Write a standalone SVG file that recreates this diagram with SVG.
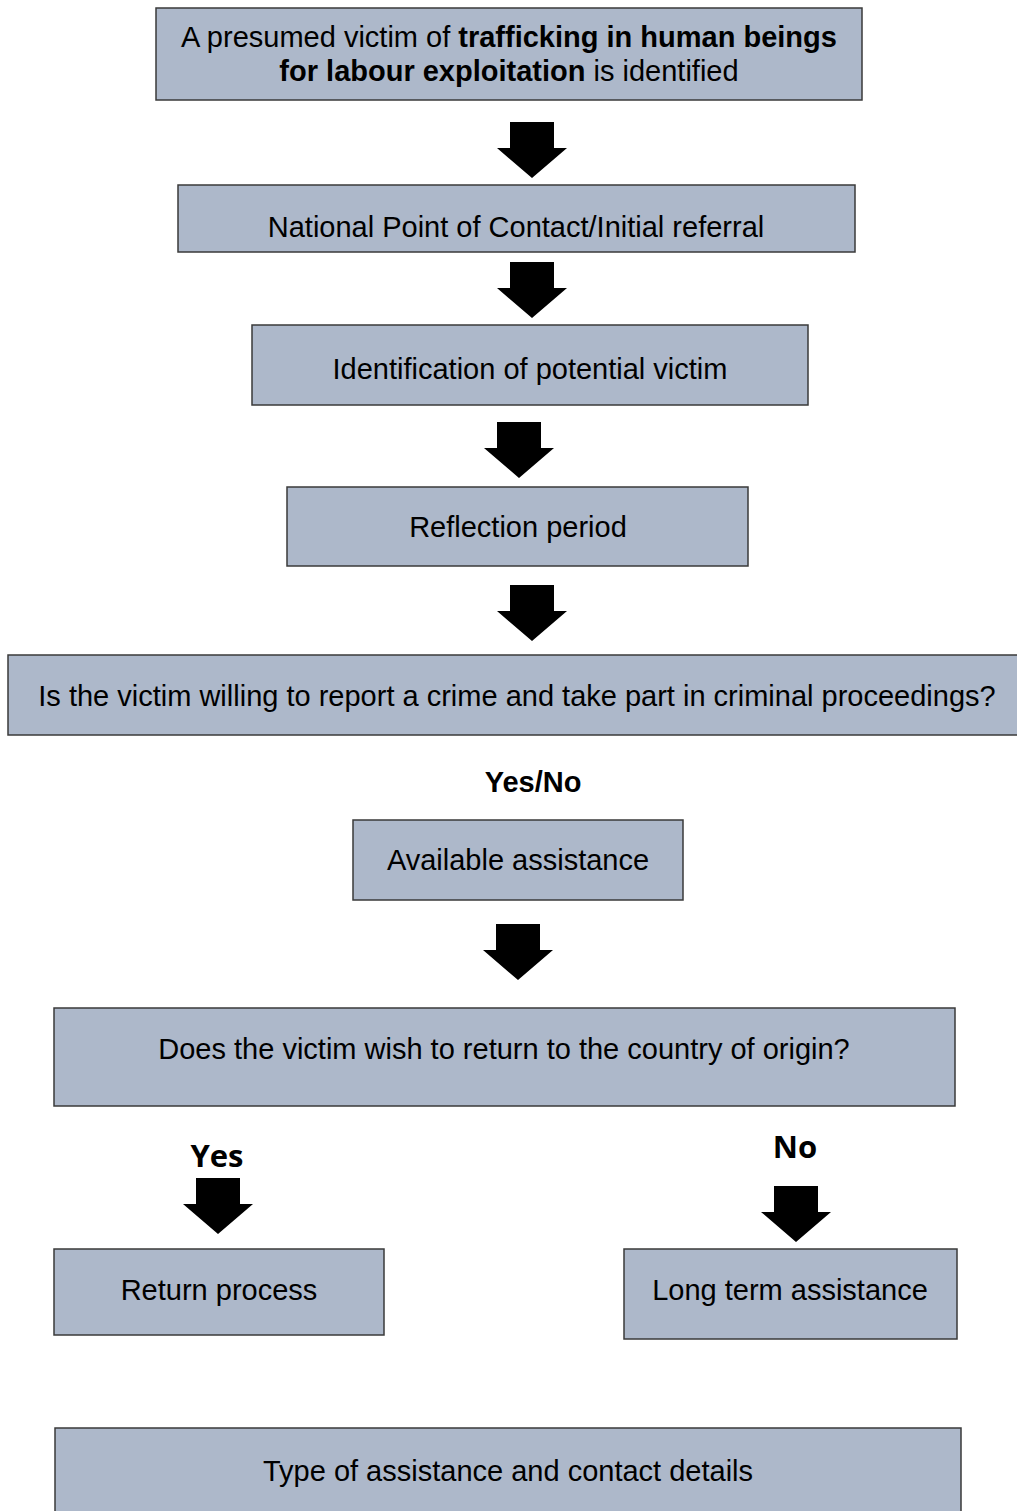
<svg xmlns="http://www.w3.org/2000/svg" width="1017" height="1511" viewBox="0 0 1017 1511">
<style>
.box{fill:#adb8ca;stroke:#3a3a3a;stroke-width:1.5}
.t{font-family:"Liberation Sans",Arial,sans-serif;font-size:29px;fill:#000;text-anchor:middle}
.b{font-weight:bold}
.c{font-family:"Open Sans",Lato,sans-serif;font-size:31px;font-weight:bold;text-anchor:middle}
.arr{fill:#000}
</style>
<defs>
<path id="ar" d="M-22,0 H22 V26 H35 L0,56 L-35,26 H-22 Z"/>
</defs>
<rect width="1017" height="1511" fill="#fff"/>
<g id="n1"><rect class="box" x="156" y="8" width="706" height="92"/>
<text class="t" x="509" y="47">A presumed victim of <tspan class="b">trafficking in human beings</tspan></text>
<text class="t" x="509" y="81"><tspan class="b">for labour exploitation</tspan> is identified</text></g>
<g id="n2"><rect class="box" x="178" y="185" width="677" height="67"/>
<text class="t" x="516" y="237">National Point of Contact/Initial referral</text></g>
<g id="n3"><rect class="box" x="252" y="325" width="556" height="80"/>
<text class="t" x="530" y="379">Identification of potential victim</text></g>
<g id="n4"><rect class="box" x="287" y="487" width="461" height="79"/>
<text class="t" x="518" y="537">Reflection period</text></g>
<g id="n5"><rect class="box" x="8" y="655" width="1012" height="80"/>
<text class="t" x="517" y="706">Is the victim willing to report a crime and take part in criminal proceedings?</text></g>
<g id="lblYN"><text class="t b" x="533" y="792">Yes/No</text></g>
<g id="n6"><rect class="box" x="353" y="820" width="330" height="80"/>
<text class="t" x="518" y="870">Available assistance</text></g>
<g id="n7"><rect class="box" x="54" y="1008" width="901" height="98"/>
<text class="t" x="504" y="1059">Does the victim wish to return to the country of origin?</text></g>
<g id="lblYes"><text class="c" x="217" y="1167">Yes</text></g>
<g id="lblNo"><text class="c" x="795" y="1158">No</text></g>
<g id="n8"><rect class="box" x="54" y="1249" width="330" height="86"/>
<text class="t" x="219" y="1300">Return process</text></g>
<g id="n9"><rect class="box" x="624" y="1249" width="333" height="90"/>
<text class="t" x="790" y="1300">Long term assistance</text></g>
<g id="n10"><rect class="box" x="55" y="1428" width="906" height="90"/>
<text class="t" x="508" y="1481">Type of assistance and contact details</text></g>
<g id="connectors">
<use href="#ar" class="arr" x="532" y="122"/>
<use href="#ar" class="arr" x="532" y="262"/>
<use href="#ar" class="arr" x="519" y="422"/>
<use href="#ar" class="arr" x="532" y="585"/>
<use href="#ar" class="arr" x="518" y="924"/>
<use href="#ar" class="arr" x="218" y="1178"/>
<use href="#ar" class="arr" x="796" y="1186"/>
</g>
</svg>
